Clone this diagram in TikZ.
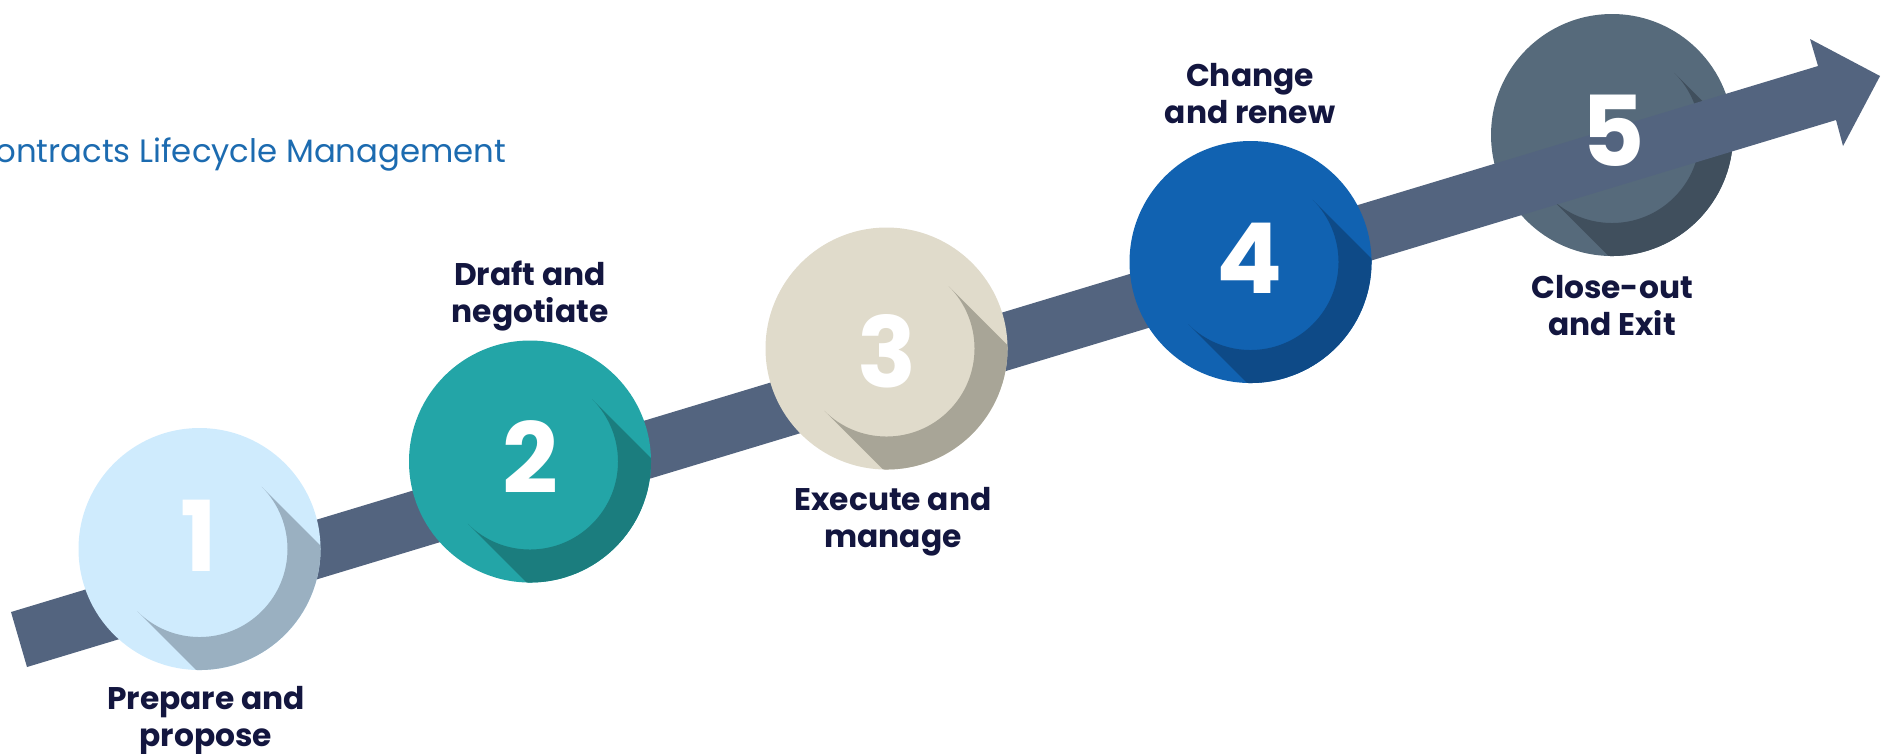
\documentclass[tikz,border=0pt]{standalone}
\usepackage{fontspec}
\newfontfamily\poppins{Poppins}
\usetikzlibrary{calc}
\definecolor{arrowslate}{HTML}{53647F}
\definecolor{labelnavy}{HTML}{13163F}
\definecolor{titleblue}{HTML}{1C6BB0}
\definecolor{discA}{HTML}{CFEBFD}
\definecolor{shadeA}{HTML}{9AB0C1}
\definecolor{discB}{HTML}{23A5A7}
\definecolor{shadeB}{HTML}{1B7D7E}
\definecolor{discC}{HTML}{E0DBCB}
\definecolor{shadeC}{HTML}{A8A597}
\definecolor{discD}{HTML}{1162B1}
\definecolor{shadeD}{HTML}{0E4A87}
\definecolor{discE}{HTML}{566A7B}
\definecolor{shadeE}{HTML}{404F5D}
\def\R{121} % disc radius
\def\r{88}  % radius of the inner (shadow casting) circle
\newcommand\DrawDisc[3]{% centre, fill, shadow
  \fill[#2] (#1) circle (\R);
  \begin{scope}
    \clip (#1) circle (\R);
    \fill[#3] ($(#1)+(-45:\r)$) -- ++(300,300) -- ($(#1)+(135:\r)+(300,300)$)
      -- ($(#1)+(135:\r)$) arc[start angle=135,end angle=-45,radius=\r] -- cycle;
  \end{scope}
}
\tikzset{%
  steplabel/.style={font=\poppins\bfseries\fontsize{8.9}{10.5}\selectfont,
    text=labelnavy, align=center, inner sep=0pt, anchor=base},
  digit/.style={font=\poppins\bfseries\fontsize{27.8}{28}\selectfont,
    text=white, inner sep=0pt},
  heading/.style={font=\poppins\fontsize{9.2}{12}\selectfont, text=titleblue,
    inner sep=0pt}
}
\begin{document}
\begin{tikzpicture}[x=0.01cm,y=-0.01cm] % one unit = one pixel, y downwards

\useasboundingbox (0,0) rectangle (1889,753);
\clip (0,0) rectangle (1889,753);

\coordinate (c1) at (199.5,549);
\coordinate (c2) at (530,461.5);
\coordinate (c3) at (886.5,348.5);
\coordinate (c4) at (1250.5,262);
\coordinate (c5) at (1612,135);

% last disc lies under the arrow
\DrawDisc{c5}{discE}{shadeE}

% the arrow
\fill[arrowslate] (11,612) -- (1818,66) -- (1810,39) -- (1880,76)
  -- (1843,146) -- (1836,120) -- (27,667) -- cycle;

\DrawDisc{c1}{discA}{shadeA}
\DrawDisc{c2}{discB}{shadeB}
\DrawDisc{c3}{discC}{shadeC}
\DrawDisc{c4}{discD}{shadeD}

\node[digit] (n1) at (199,536) {1};
\node[digit] (n2) at (530,457) {2};
\node[digit] (n3) at (887,351) {3};
\node[digit] (n4) at (1250,258) {4};
\node[digit] (n5) at (1613,131) {5};

% base anchor sits on the second line
\node[steplabel] (l1) at (206,746) {Prepare and\\propose};
\node[steplabel] (l2) at (530,322) {Draft and\\negotiate};
\node[steplabel] (l3) at (893,547) {Execute and\\manage};
\node[steplabel] (l4) at (1250,123) {Change\\and renew};
\node[steplabel] (l5) at (1612,335) {Close-out\\and Exit};

\node[heading, anchor=base east] (title) at (507,162) {Contracts Lifecycle Management};

\end{tikzpicture}
\end{document}
